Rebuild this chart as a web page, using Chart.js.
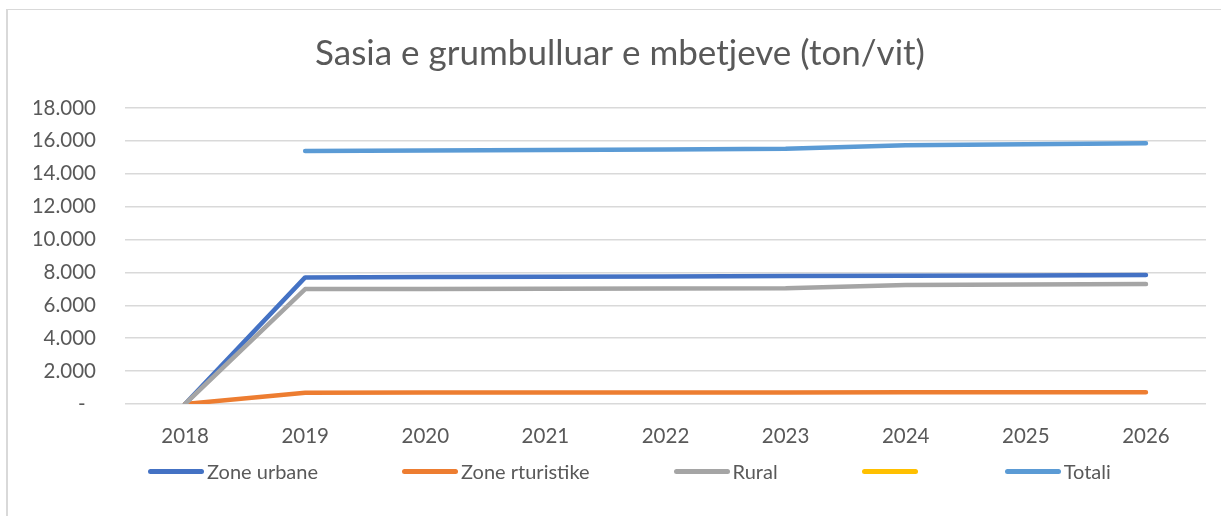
<!DOCTYPE html>
<html>
<head>
<meta charset="utf-8">
<script src="https://cdn.jsdelivr.net/npm/chart.js@4.4.1/dist/chart.umd.min.js"></script>
<style>
  html, body { margin: 0; padding: 0; background: #ffffff; }
  #wrap { position: relative; width: 1221px; height: 516px; overflow: hidden; }
  #frame { position: absolute; left: 6px; top: 9px; right: -10px; bottom: -10px;
           border-left: 2px solid #d9d9d9; border-top: 1px solid #d9d9d9; }
  #box { position: absolute; left: 0; top: 0; width: 1221px; height: 516px; }
  #legend { position: absolute; left: 148px; top: 459px; height: 24px; display: flex; align-items: center;
            gap: 84px; font-family: Lato, "Open Sans", sans-serif; font-size: 20px; color: #595959; white-space: nowrap; }
  .item { display: flex; align-items: center; }
  .swatch { width: 56px; height: 5px; border-radius: 3px; margin-right: 3px; }
</style>
</head>
<body>
<div id="wrap">
  <div id="frame"></div>
  <div id="box"><canvas id="c"></canvas></div>
  <div id="legend"></div>
</div>
<script>
const years = ['2018', '2019', '2020', '2021', '2022', '2023', '2024', '2025', '2026'];
const zoneUrbane = [0, 7700, 7720, 7740, 7760, 7780, 7800, 7820, 7850];
const zoneTuristike = [0, 690, 695, 700, 700, 705, 710, 715, 720];
const rural = [0, 6990, 7000, 7010, 7020, 7040, 7230, 7260, 7290];
const bosh = [null, null, null, null, null, null, null, null, null];
const totali = [null, 15380, 15415, 15450, 15480, 15525, 15740, 15795, 15860];
const seriesNames = ['Zone urbane', 'Zone rturistike', 'Rural', '', 'Totali'];
const seriesColors = ['#4472C4', '#ED7D31', '#A5A5A5', '#FFC000', '#5B9BD5'];
const yTicks = [0, 2000, 4000, 6000, 8000, 10000, 12000, 14000, 16000, 18000];
const titleText = 'Sasia e grumbulluar e mbetjeve (ton/vit)';

const seriesData = [zoneUrbane, zoneTuristike, rural, bosh, totali];
const FONT = 'Lato, "Open Sans", sans-serif';
const TXT = '#595959';

const datasets = seriesData.map((d, i) => ({
  label: seriesNames[i],
  data: d,
  borderColor: seriesColors[i],
  backgroundColor: seriesColors[i],
  borderWidth: 4.5,
  borderCapStyle: 'round',
  borderJoinStyle: 'round',
  pointRadius: 0,
  pointHoverRadius: 0,
  tension: 0,
  spanGaps: false,
  order: seriesData.length - i
}));

function fmt(v) {
  if (v === 0) return '-  ';
  return v.toLocaleString('de-DE');
}

new Chart(document.getElementById('c'), {
  type: 'line',
  data: { labels: years, datasets },
  options: {
    responsive: true,
    maintainAspectRatio: false,
    animation: false,
    layout: { padding: { left: 34, right: 15, top: 0, bottom: 67 } },
    plugins: {
      legend: { display: false },
      tooltip: { enabled: false },
      title: {
        display: true,
        text: titleText,
        color: TXT,
        font: { family: FONT, size: 35, weight: 'normal' },
        padding: { top: 33, bottom: 33 }
      }
    },
    scales: {
      x: {
        offset: true,
        grid: { display: false, drawTicks: false },
        border: { display: false },
        ticks: { color: TXT, font: { family: FONT, size: 20.5 }, padding: 20, maxRotation: 0 },
        afterFit: (s) => { s.height = 45; }
      },
      y: {
        min: 0, max: 18000,
        afterBuildTicks: (s) => { s.ticks = yTicks.map(v => ({ value: v })); },
        grid: { color: '#d9d9d9', lineWidth: 1.5, drawTicks: false },
        border: { display: false },
        ticks: { color: TXT, font: { family: FONT, size: 20.5 }, padding: 29, callback: (v) => fmt(v) },
        afterFit: (s) => { s.width = 91; }
      }
    }
  }
});

const leg = document.getElementById('legend');
seriesNames.forEach((n, i) => {
  const it = document.createElement('div');
  it.className = 'item';
  const sw = document.createElement('span');
  sw.className = 'swatch';
  sw.style.background = seriesColors[i];
  const tx = document.createElement('span');
  tx.textContent = n;
  it.appendChild(sw); it.appendChild(tx);
  leg.appendChild(it);
});
</script>
</body>
</html>
